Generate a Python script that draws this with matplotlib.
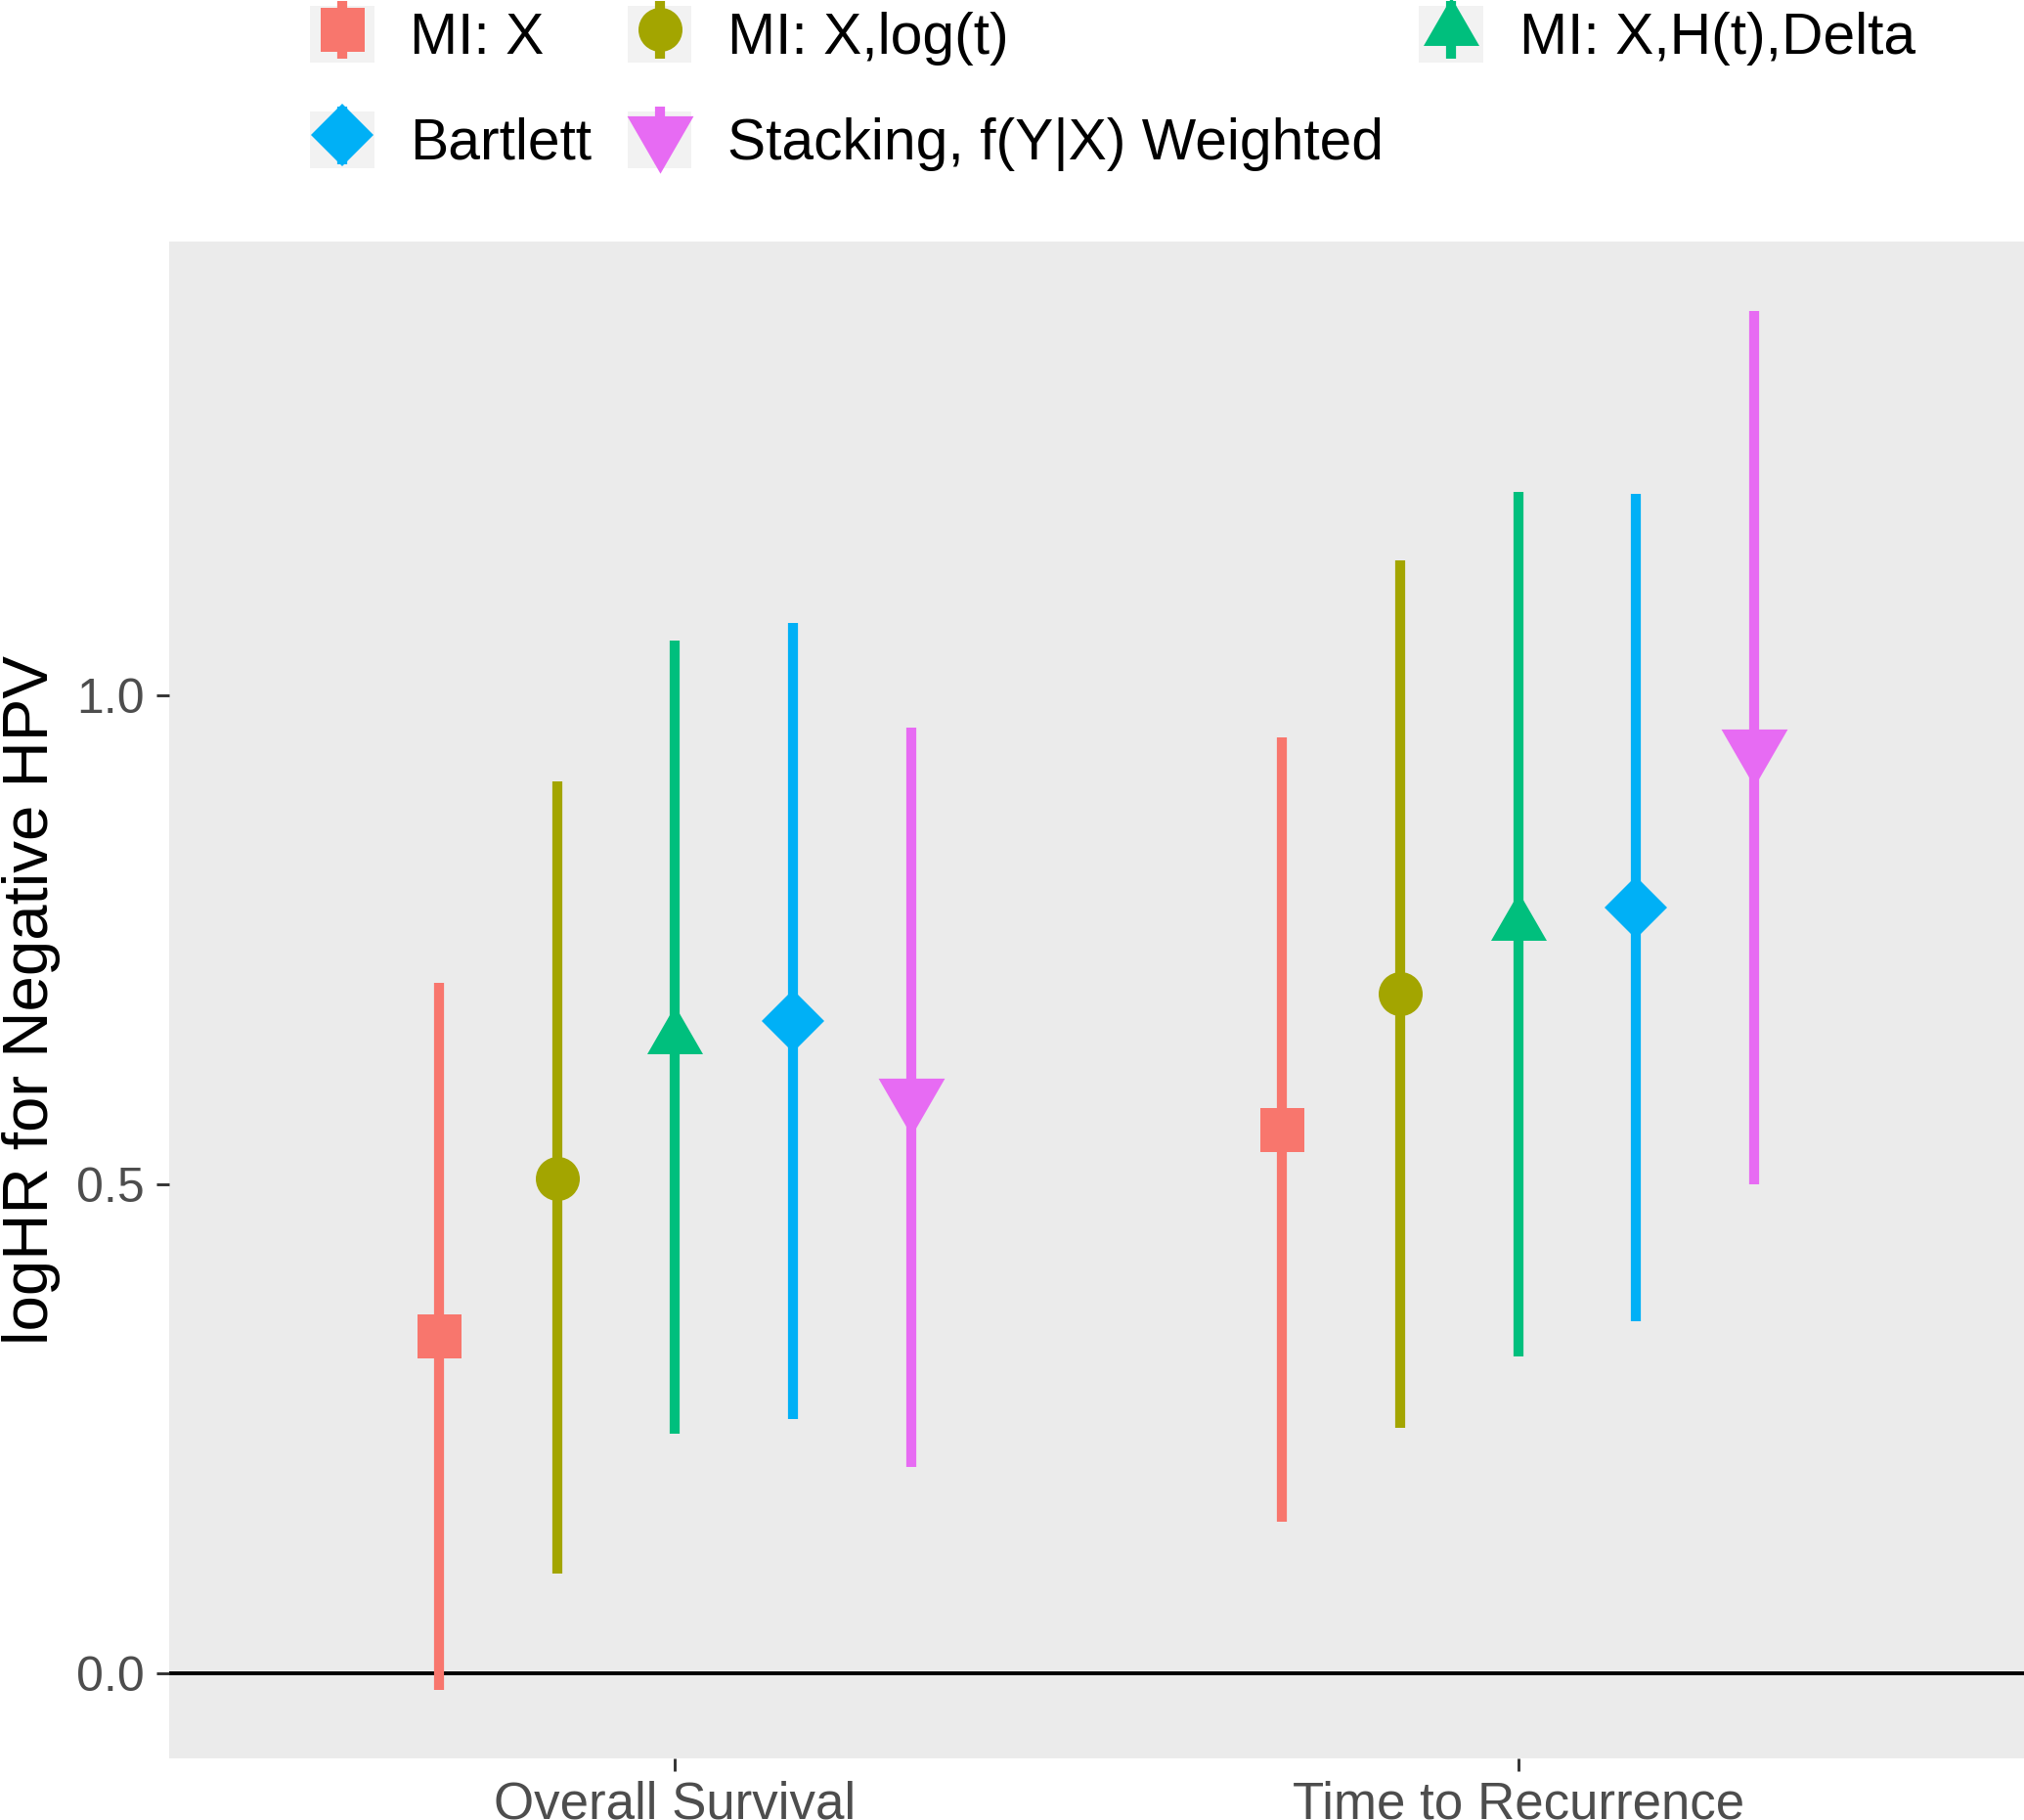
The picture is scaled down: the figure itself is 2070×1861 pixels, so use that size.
"""Pointrange plot: logHR for negative HPV by imputation method and outcome."""

import matplotlib

matplotlib.use("Agg")
import matplotlib.pyplot as plt
import numpy as np
from matplotlib.legend_handler import HandlerTuple
from matplotlib.patches import Patch
from matplotlib.path import Path

plt.rcParams["font.family"] = ["Liberation Sans", "DejaVu Sans"]

outcomes = ["Overall Survival", "Time to Recurrence"]
methods = ["MI: X", "MI: X,log(t)", "MI: X,H(t),Delta", "Bartlett",
           "Stacking, f(Y|X) Weighted"]
colors = ["#F8766D", "#A3A500", "#00BF7D", "#00B0F6", "#E76BF3"]

# point estimates and interval ends, one entry per method
est_os = [0.345, 0.506, 0.650, 0.667, 0.589]
lo_os = [-0.017, 0.102, 0.245, 0.260, 0.211]
hi_os = [0.706, 0.912, 1.056, 1.074, 0.967]
est_tr = [0.556, 0.695, 0.766, 0.783, 0.946]
lo_tr = [0.155, 0.251, 0.324, 0.360, 0.500]
hi_tr = [0.957, 1.138, 1.208, 1.206, 1.394]

# R-style triangles (centred on the circumcentre, like ggplot shapes 17 / 25)
TRI_UP = Path([(0, 1), (-0.866, -0.5), (0.866, -0.5), (0, 1)], closed=True)
TRI_DOWN = Path([(0, -1), (-0.866, 0.5), (0.866, 0.5), (0, -1)], closed=True)
markers = [("s", 10.8), ("o", 10.8), (TRI_UP, 15.8), ("D", 10.7), (TRI_DOWN, 18.8)]

W, H, DPI = 2070, 1861, 300
fig = plt.figure(figsize=(W / DPI, H / DPI), dpi=DPI)
ax = fig.add_axes([173 / W, 63 / H, 1897 / W, 1551 / H])
ax.set_facecolor("#EBEBEB")
for s in ax.spines.values():
    s.set_visible(False)

ax.axhline(0, color="black", lw=0.95, zorder=1)

dodge = 0.14
xpos = np.arange(1, len(outcomes) + 1)
handles = []
for i, name in enumerate(methods):
    x = xpos + (i - 2) * dodge
    y = np.array([est_os[i], est_tr[i]])
    lo = np.array([lo_os[i], lo_tr[i]])
    hi = np.array([hi_os[i], hi_tr[i]])
    mk, ms = markers[i]
    eb = ax.errorbar(x, y, yerr=[y - lo, hi - y], color=colors[i],
                     elinewidth=2.45, capsize=0, linestyle="none",
                     marker=mk, markersize=ms, markeredgewidth=0, zorder=3)
    handles.append((Patch(facecolor="#F2F2F2", edgecolor="none"), eb))

allv = np.r_[lo_os, lo_tr, hi_os, hi_tr]
span = allv.max() - allv.min()
ax.set_ylim(allv.min() - 0.05 * span, allv.max() + 0.05 * span)
ax.set_xlim(0.4, 2.6)
ax.set_xticks(xpos, outcomes)
ax.set_yticks([0.0, 0.5, 1.0], ["0.0", "0.5", "1.0"])
ax.tick_params(axis="x", length=3.1, width=0.7, color="#333333", pad=2.2,
               labelsize=12.7, labelcolor="#4D4D4D")
ax.tick_params(axis="y", length=3.1, width=0.7, color="#333333", pad=2.9,
               labelsize=12, labelcolor="#4D4D4D")
ax.set_ylabel("logHR for Negative HPV", fontsize=15.7, color="black")
ax.yaxis.set_label_coords((62 - 173) / 1897, 0.5)

# ggplot-like legend: column-major order, 2 rows x 3 columns
order = [0, 3, 1, 4, 2]
fig.legend([handles[k] for k in order], [methods[k] for k in order],
           ncol=3, loc="upper left", bbox_to_anchor=(317 / W, 1 - 6 / H),
           frameon=False, fontsize=14.1,
           handler_map={tuple: HandlerTuple(ndivide=1, pad=0)},
           handlelength=1.12, handleheight=1.14, handletextpad=0.62,
           columnspacing=0.62, labelspacing=0.8, borderpad=0,
           borderaxespad=0)

fig.savefig("out.png", dpi=DPI)
